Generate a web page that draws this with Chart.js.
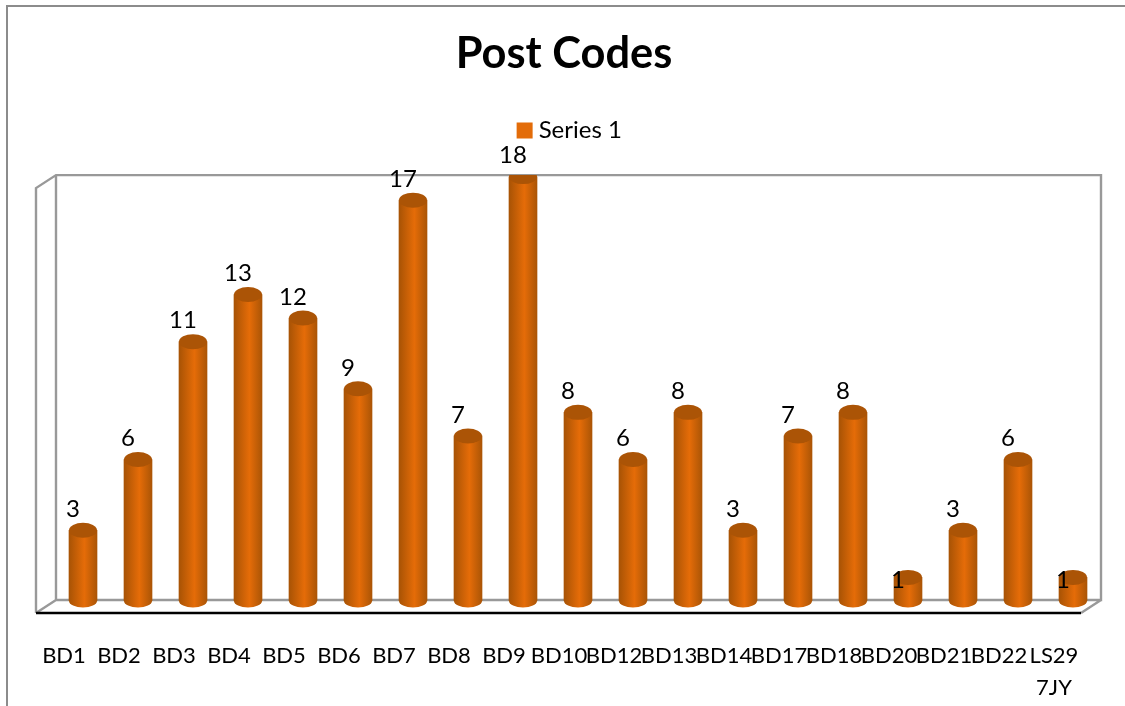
<!DOCTYPE html>
<html><head><meta charset="utf-8">
<style>html,body{margin:0;padding:0;background:#fff;overflow:hidden}#w{width:1125px;height:706px;position:relative}</style>
<script src="https://cdn.jsdelivr.net/npm/chart.js@4/dist/chart.umd.min.js"></script>
</head><body><div id="w"><canvas id="c"></canvas></div>
<script>
const categories=['BD1','BD2','BD3','BD4','BD5','BD6','BD7','BD8','BD9','BD10','BD12','BD13','BD14','BD17','BD18','BD20','BD21','BD22',['LS29','7JY']];
const values=[3,6,11,13,12,9,17,7,18,8,6,8,3,7,8,1,3,6,1];
const seriesName='Series 1';
const FONT='Lato, Carlito, "Open Sans", sans-serif';
const GRID='#999999';

function barGradient(ctx,cx,hw){
  const g=ctx.createLinearGradient(cx-hw,0,cx+hw,0);
  g.addColorStop(0,'#a85305');
  g.addColorStop(0.55,'#e56c08');
  g.addColorStop(1,'#ab5506');
  return g;
}
const frame={id:'frame',
  afterLayout(chart){
    const t=chart.titleBlock,l=chart.legend;
    t.left-=14;t.right-=14;
    l.left-=5.75;l.right-=5.75;
    l.top-=24;l.bottom-=24;
  },
  beforeDraw(chart){
    const c=chart.ctx,a=chart.chartArea;
    const L=a.left+0.5,R=a.right+0.5,T=a.top-1.5,B=a.bottom-1;
    const dx=20,dy=13;
    c.save();
    c.strokeStyle='#8c8c8c';c.lineWidth=2;
    c.beginPath();c.moveTo(7,706);c.lineTo(7,6);c.lineTo(1125,6);c.stroke();
    c.strokeStyle=GRID;c.lineWidth=2.4;
    c.beginPath();
    c.moveTo(L-dx,B+dy);c.lineTo(L-dx,T+dy);c.lineTo(L,T);c.lineTo(R,T);c.lineTo(R,B);c.lineTo(L,B);c.lineTo(L,T);
    c.moveTo(L,B);c.lineTo(L-dx,B+dy);
    c.moveTo(R,B);c.lineTo(R-dx,B+dy);
    c.stroke();
    c.strokeStyle='#000';c.lineWidth=2.5;
    c.beginPath();c.moveTo(L-dx,B+dy);c.lineTo(R-dx,B+dy);c.stroke();
    c.restore();
  },
  beforeDatasetsDraw(chart){
    const c=chart.ctx,meta=chart.getDatasetMeta(0);
    c.save();
    meta.data.forEach(el=>{
      c.fillStyle=barGradient(c,el.x,14);
      c.beginPath();c.ellipse(el.x,el.base,14,6.5,0,0,Math.PI*2);c.fill();
    });
    c.restore();
  },
  afterDatasetsDraw(chart){
    const c=chart.ctx,meta=chart.getDatasetMeta(0),a=chart.chartArea;
    c.save();
    c.save();c.beginPath();c.rect(0,a.top-1.5,chart.width,chart.height);c.clip();
    meta.data.forEach(el=>{
      c.fillStyle='#ab5406';
      c.beginPath();c.ellipse(el.x,el.y,14,7.5,0,0,Math.PI*2);c.fill();
    });
    c.restore();
    c.fillStyle='#000';c.font='24px '+FONT;c.textAlign='center';c.textBaseline='middle';
    meta.data.forEach((el,i)=>{
      c.fillText(String(values[i]),el.x-10,values[i]===1?el.y+3:el.y-21);
    });
    c.restore();
  }
};
new Chart(document.getElementById('c'),{
  type:'bar',
  data:{labels:categories,datasets:[{label:seriesName,data:values,barThickness:28,borderWidth:0,
    backgroundColor(ctx){
      const x=ctx.chart.scales.x;
      return barGradient(ctx.chart.ctx,x.getPixelForValue(ctx.dataIndex),14);
    }}]},
  plugins:[frame],
  options:{responsive:true,maintainAspectRatio:false,animation:false,
    layout:{autoPadding:false,padding:{left:55.5,right:24.5,top:0,bottom:0}},
    plugins:{
      tooltip:{enabled:false},
      title:{display:true,text:'Post Codes',color:'#000',font:{family:FONT,size:43.4,weight:'bold'},padding:{top:28,bottom:22.5}},
      legend:{display:true,position:'top',labels:{
        font:{family:FONT,size:24},color:'#000',boxWidth:4,boxHeight:16,padding:40,usePointStyle:true,
        generateLabels(){return [{text:seriesName,fillStyle:'#e36c09',strokeStyle:'#e36c09',lineWidth:0,pointStyle:'rect',datasetIndex:0}];}
      }}
    },
    scales:{
      y:{display:false,min:0,max:18},
      x:{offset:true,grid:{display:false},border:{display:false},
        afterFit(s){s.height=105;s.paddingLeft=0;s.paddingRight=0;},
        ticks:{color:'#000',font:{family:FONT,size:22,lineHeight:1.45},padding:31,labelOffset:-19,maxRotation:0,minRotation:0,autoSkip:false}}
    }
  }
});
</script></body></html>
